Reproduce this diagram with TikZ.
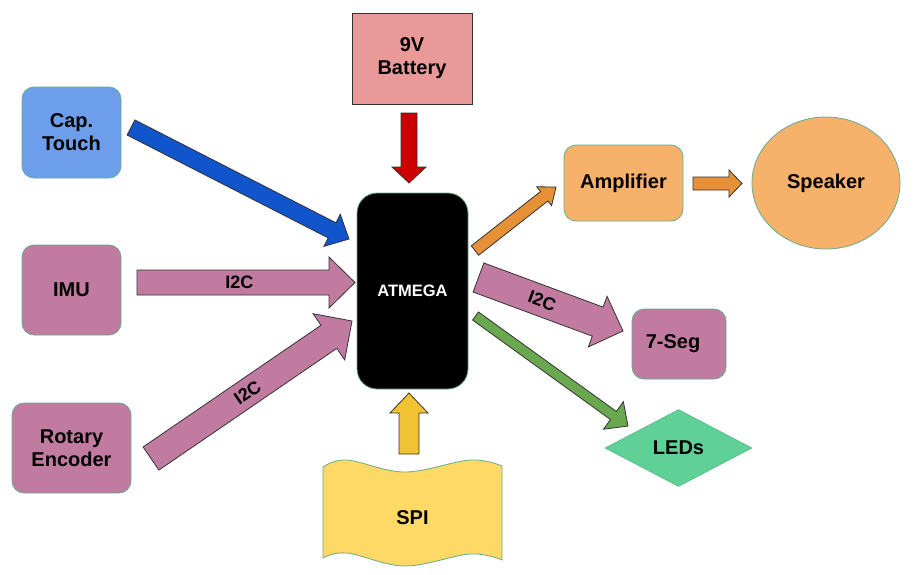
\documentclass[tikz,border=0pt]{standalone}
\usepackage{fontspec}
\setmainfont{Liberation Sans}
\usetikzlibrary{calc,shapes.geometric}
\definecolor{capblue}{HTML}{6D9EEB}
\definecolor{mauve}{HTML}{C27BA0}
\definecolor{batpink}{HTML}{EA9999}
\definecolor{orangelt}{HTML}{F6B26B}
\definecolor{yellowlt}{HTML}{FFD966}
\definecolor{ledgreen}{HTML}{5FD197}
\definecolor{arrblue}{HTML}{1155CC}
\definecolor{arrred}{HTML}{CC0000}
\definecolor{arryellow}{HTML}{F1C232}
\definecolor{arrorange}{HTML}{E69138}
\definecolor{arrgreen}{HTML}{6AA84F}
\definecolor{nodeborder}{RGB}{103,171,140}
\definecolor{arrborder}{HTML}{333333}
% fat block arrow: #1 style, #2 tail, #3 tip, #4 shaft half width, #5 head half width, #6 head length
\newcommand\fatarr[6]{%
  \coordinate (fab) at ($(#3)!#6!(#2)$);
  \draw[fatarrow,#1] ($(#2)!#4!90:(#3)$) -- ($(fab)!#4!90:(#3)$) -- ($(fab)!#5!90:(#3)$)
    -- (#3) -- ($(fab)!#5!-90:(#3)$) -- ($(fab)!#4!-90:(#3)$) -- ($(#2)!#4!-90:(#3)$) -- cycle;}
\begin{document}
\begin{tikzpicture}[x=1pt,y=-1pt,
  box/.style={draw=nodeborder, line width=0.8pt, rounded corners=12pt, align=center,
    inner sep=0pt, font=\fontsize{20}{23}\selectfont\bfseries},
  fatarrow/.style={draw=arrborder, line width=0.8pt, line join=miter},
  lbl/.style={font=\fontsize{18}{21}\selectfont\bfseries, inner sep=0pt}]
\useasboundingbox (0,0) rectangle (914,574);
% nodes
\node[box, fill=capblue, minimum width=99pt, minimum height=91pt] (cap) at (71.5,132.5) {Cap.\\Touch};
\node[box, fill=mauve, minimum width=99pt, minimum height=90pt] (imu) at (71.5,290) {IMU};
\node[box, fill=mauve, minimum width=119pt, minimum height=90pt] (rot) at (71.5,448) {Rotary\\Encoder};
\node[box, draw=arrborder, sharp corners, fill=batpink, minimum width=120pt, minimum height=91pt] (bat) at (412,58.5) {9V\\Battery};
\node[box, rounded corners=20pt, fill=black, text=white, minimum width=111pt, minimum height=196pt,
  font=\fontsize{16.5}{19}\selectfont\bfseries] (atm) at (412.5,291) {ATMEGA};
\node[box, fill=orangelt, minimum width=119pt, minimum height=76pt] (amp) at (623.5,183) {Amplifier};
\node[box, ellipse, fill=orangelt, minimum width=148pt, minimum height=132pt] (spk) at (826,183) {Speaker};
\node[box, fill=mauve, minimum width=94pt, minimum height=70pt] (seg) at (679,344) {\hspace*{-12pt}7-Seg};
\node[box, diamond, sharp corners, draw=ledgreen!85!black, line width=0.5pt, fill=ledgreen, minimum width=147pt, minimum height=77pt] (leds) at (678.5,448) {LEDs};
% SPI tape shape
\draw[fill=yellowlt, draw=nodeborder, line width=0.8pt]
  plot[smooth, tension=0.6] coordinates {(323,467) (347,460) (405,472) (470,460) (502,466)}
  -- plot[smooth, tension=0.6] coordinates {(502,560) (470,554) (405,566) (347,553) (323,558)}
  -- cycle;
\node[box, draw=none] (spi) at (412.5,518) {SPI};
% arrow end points
\coordinate (capT) at (131,127.5);   \coordinate (capP) at (349,239);
\coordinate (batT) at (409,113);     \coordinate (batP) at (409,183);
\coordinate (imuT) at (137,282.5);   \coordinate (imuP) at (355,282.5);
\coordinate (rotT) at (151,458.5);   \coordinate (rotP) at (352,321);
\coordinate (spiT) at (409,454);     \coordinate (spiP) at (409,393);
\coordinate (ampT) at (475,250.5);   \coordinate (ampP) at (556,187);
\coordinate (spkT) at (693,183.5);   \coordinate (spkP) at (742,183.5);
\coordinate (segT) at (478.5,277.5); \coordinate (segP) at (623,331);
\coordinate (ledT) at (475.5,316);   \coordinate (ledP) at (628,426);
% block arrows
\fatarr{fill=arrblue}{capT}{capP}{8.5pt}{18pt}{19pt}
\fatarr{fill=arrred}{batT}{batP}{8pt}{17pt}{16pt}
\fatarr{fill=mauve}{imuT}{imuP}{12.5pt}{25.5pt}{26pt}
\fatarr{fill=mauve}{rotT}{rotP}{14pt}{28pt}{28pt}
\fatarr{fill=arryellow}{spiT}{spiP}{10pt}{19pt}{20pt}
\fatarr{fill=arrorange}{ampT}{ampP}{6pt}{12pt}{15pt}
\fatarr{fill=arrorange}{spkT}{spkP}{6.5pt}{13.5pt}{13pt}
\fatarr{fill=mauve}{segT}{segP}{15.5pt}{27pt}{27pt}
\fatarr{fill=arrgreen}{ledT}{ledP}{5pt}{17pt}{18pt}
% labels
\path (imuT) -- (imuP) node[lbl, pos=0.47, sloped] (l1) {I2C};
\path (rotT) -- (rotP) node[lbl, pos=0.48, sloped] (l2) {I2C};
\path (segT) -- (segP) node[lbl, pos=0.44, sloped] (l3) {I2C};
\end{tikzpicture}
\end{document}
